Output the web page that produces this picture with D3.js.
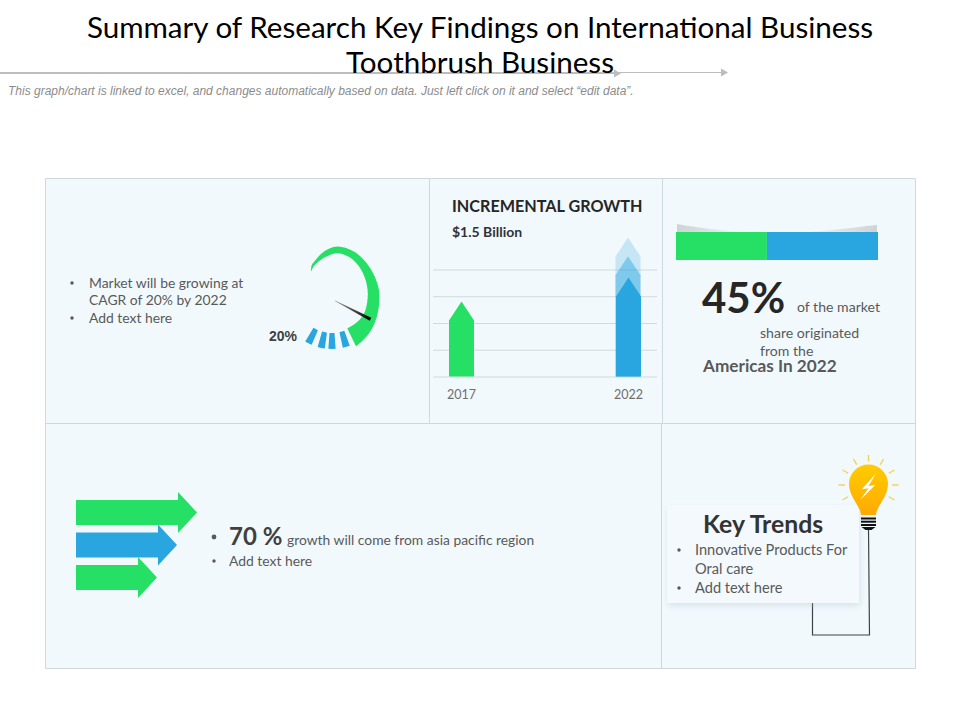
<!DOCTYPE html>
<html><head><meta charset="utf-8">
<script src="https://cdnjs.cloudflare.com/ajax/libs/d3/7.8.5/d3.min.js"></script>
<style>html,body{margin:0;padding:0;background:#fff}svg{display:block}</style>
</head><body><svg id="c" width="960" height="720"></svg>
<script>
const titleLines=["Summary of Research Key Findings on International Business","Toothbrush Business"];
const note="This graph/chart is linked to excel, and changes automatically based on data. Just left click on it and select “edit data”.";
const growthYears=["2017","2022"];
const growthValues=[2.8,3.7];
const growthGhostValues=[4.5,5.2];
const gridTicks=[0,1,2,3,4];
const shareParts=[45,55];
const arrowValues=[121,101,81];
const gaugeDashAngles=[207,192,180,164];
const gaugeNeedleValue=20;
const GREEN="#26e066",BLUE="#29a6e0",INK="#595959";

const svg=d3.select("#c");
const defs=svg.append("defs");
const sh=defs.append("filter").attr("id","cardShadow").attr("x","-10%").attr("y","-10%").attr("width","120%").attr("height","125%");
sh.append("feDropShadow").attr("dx",1).attr("dy",3).attr("stdDeviation",3).attr("flood-color","#a8b8c0").attr("flood-opacity",.35);
const bulbG=defs.append("linearGradient").attr("id","bulbG").attr("x1",0).attr("x2",0).attr("y1",0).attr("y2",1);
bulbG.append("stop").attr("offset","0").attr("stop-color","#ffcc00");
bulbG.append("stop").attr("offset","1").attr("stop-color","#ffaa00");
const shL=defs.append("linearGradient").attr("id","shL");
shL.append("stop").attr("offset","0").attr("stop-color","#cfd3d6");
shL.append("stop").attr("offset","1").attr("stop-color","#eef3f6");
const shR=defs.append("linearGradient").attr("id","shR");
shR.append("stop").attr("offset","0").attr("stop-color","#eef3f6");
shR.append("stop").attr("offset","1").attr("stop-color","#cfd3d6");
const ndl=defs.append("linearGradient").attr("id","ndl");
ndl.append("stop").attr("offset","0").attr("stop-color","#9a9a9a");
ndl.append("stop").attr("offset","1").attr("stop-color","#000");

const SANS="Lato,'Open Sans',sans-serif";
function txt(x,y,s,size,opt={}){
  const t=svg.append("text").attr("x",x).attr("y",y).text(s)
    .attr("font-family",opt.family||SANS).attr("font-size",size)
    .attr("fill",opt.fill||INK).attr("font-weight",opt.weight||400)
    .attr("text-anchor",opt.anchor||"start");
  if(opt.style)t.attr("font-style",opt.style);
  return t;
}
function bullet(x,y,r=1.7){svg.append("circle").attr("cx",x).attr("cy",y).attr("r",r).attr("fill",INK);}

// panel
svg.append("rect").attr("x",45).attr("y",178).attr("width",870).attr("height",490).attr("fill","#f2f9fd");
const lineC="#cdd9df";
[[45,178,915,178],[45,423,915,423],[45,668,915,668],[45,178,45,668],[915,178,915,668],[429,178,429,423],[662,178,662,423],[661,423,661,668]]
 .forEach(d=>svg.append("line").attr("x1",d[0]+.5).attr("y1",d[1]+.5).attr("x2",d[2]+.5).attr("y2",d[3]+.5).attr("stroke",lineC).attr("stroke-width",1));

// title + arrows
[[621,73.5],[728,72.5]].forEach(([x,y])=>{
  svg.append("line").attr("x1",0).attr("x2",x-6).attr("y1",y).attr("y2",y).attr("stroke","#bdbdbd").attr("stroke-width",1);
  svg.append("path").attr("d",d3.line()([[x-7,y-4],[x,y],[x-7,y+4]])+"Z").attr("fill","#bdbdbd");
});
titleLines.forEach((s,i)=>txt(480,38+i*35,s,29.6,{anchor:"middle",fill:"#000"}));
txt(8,95,note,12,{family:"'Liberation Sans',Arial,sans-serif",style:"italic",fill:"#8c8c8c"});

// gauge
const gc=[332,297];
const g=svg.append("g").attr("transform",`translate(${gc})`);
const rad=d=>d*Math.PI/180;
const gaugeBand=[[-39,33,33.4],[-33,35,37.5],[-27,36.5,39.5],[-14,39.5,44.5],[-5,41.5,48],[7,44,50.8],[24,43.5,50.5],[40,41,49],[60,38,47.5],[84,36,47.5],[114,36,49],[135,35.5,52],[154,35,55]];
g.append("path").attr("fill",GREEN).attr("d",d3.areaRadial().curve(d3.curveCatmullRom)
  .angle(d=>rad(d[0])).innerRadius(d=>d[1]).outerRadius(d=>d[2])(gaugeBand));
const dash=d3.arc().innerRadius(36).outerRadius(52);
gaugeDashAngles.forEach(a=>g.append("path").attr("fill",BLUE)
  .attr("d",dash({startAngle:rad(a-4),endAngle:rad(a+4)})));
const needleScale=d3.scaleLinear().domain([0,100]).range([-10,177.5]);
g.append("path").attr("fill","url(#ndl)")
  .attr("transform",`translate(3,3.7) rotate(${needleScale(gaugeNeedleValue)})`)
  .attr("d","M0,-0.2L40,-1.7L40,1.7L0,0.2Z");
txt(269,341,"20%",14,{family:"'Liberation Sans',Arial,sans-serif",weight:700,fill:"#404040"});

// left text
bullet(72,283);bullet(72,318);
txt(89,288,"Market will be growing at",13.9);
txt(89,305,"CAGR of 20% by 2022",13.9);
txt(89,323,"Add text here",13.9);

// incremental growth
txt(452,212,"INCREMENTAL GROWTH",16.2,{weight:700,fill:"#262626"});
txt(452,237,"$1.5  Billion",14,{weight:700,fill:"#333"});
const y=d3.scaleLinear().domain([0,4]).range([376.5,269.5]);
const x=d3.scalePoint().domain(growthYears).range([461.5,628.5]);
const axis=svg.append("g").attr("transform","translate(433,0)")
  .call(d3.axisLeft(y).tickValues(gridTicks).tickSize(-224).tickFormat(""));
axis.select(".domain").remove();
axis.selectAll("line").attr("stroke","#d0d9de").attr("stroke-width",1);
const hw=12.5,tipH=19;
function peak(cx,v,fill,op){
  const t=y(v);
  svg.append("path").attr("fill",fill).attr("fill-opacity",op)
   .attr("d",d3.line()([[cx-hw,y(0)],[cx-hw,t+tipH],[cx,t],[cx+hw,t+tipH],[cx+hw,y(0)]])+"Z");
}
const g22=growthYears[1];
peak(x(g22)-0.5,growthGhostValues[1],BLUE,.22);
peak(x(g22)-0.5,growthGhostValues[0],BLUE,.45);
growthYears.forEach((d,i)=>peak(x(d),growthValues[i],i?BLUE:GREEN,1));
const xa=svg.append("g").attr("transform","translate(0,376)").call(d3.axisBottom(x).tickSize(0).tickPadding(14));
xa.select(".domain").remove();
xa.selectAll("text").attr("font-family",SANS).attr("font-size",12.5).attr("fill","#6e6e6e").attr("dx",-0.5);

// share bar
svg.append("path").attr("fill","url(#shL)").attr("d","M677,224C700,228 725,231 745,232L677,232Z");
svg.append("path").attr("fill","url(#shR)").attr("d","M877,225C850,228 825,231 805,232L877,232Z");
const sx=d3.scaleLinear().domain([0,d3.sum(shareParts)]).range([676,878]);
let acc=0;
shareParts.forEach((v,i)=>{svg.append("rect").attr("x",sx(acc)).attr("y",232).attr("width",sx(acc+v)-sx(acc)).attr("height",28).attr("fill",i?BLUE:GREEN);acc+=v;});
txt(702,313,"45%",42,{weight:700,fill:"#262626"});
txt(797,312,"of the market",14.1);
txt(760,338,"share originated",14.1);
txt(760,355.5,"from the",14.1);
txt(703,372,"Americas In 2022",17.2,{weight:700});

// arrows
const ax=d3.scaleLinear().domain([0,121]).range([76,197]);
arrowValues.forEach((v,i)=>{
  const cy=512.5+i*32.5,e=ax(v),n=e-19;
  svg.append("path").attr("fill",i==1?BLUE:GREEN).attr("d",d3.line()([[76,cy-12.5],[n,cy-12.5],[n,cy-20.5],[e,cy],[n,cy+20.5],[n,cy+12.5],[76,cy+12.5]])+"Z");
});
bullet(214,537,2.4);bullet(214,561);
txt(229,545,"70 %",24,{weight:700,fill:"#404040"});
txt(287,545,"growth will come from asia pacific region",13.85);
txt(229,566,"Add text here",13.9);

// wire + card + bulb
svg.append("path").attr("fill","none").attr("stroke","#3c4448").attr("stroke-width",1.2)
  .attr("d","M868.5,530L869.5,635L812.5,635L812.5,600");
svg.append("rect").attr("x",667).attr("y",505).attr("width",192).attr("height",98).attr("fill","#f3f9fd").attr("filter","url(#cardShadow)");
txt(703,533,"Key Trends",24.8,{weight:700,fill:"#333"});
bullet(679,550);bullet(679,588);
txt(695,555,"Innovative Products For",14.6);
txt(695,574,"Oral care",14.6);
txt(695,593,"Add text here",14.6);

const b=svg.append("g").attr("transform","translate(868.5,485)");
[-120,-90,-60,-30,0,30,60,90,120].forEach(a=>{
  b.append("line").attr("y1",-23.5).attr("y2",-30).attr("transform",`rotate(${a})`).attr("stroke","#f7cf4f").attr("stroke-width",1.4);
});
b.append("path").attr("fill","url(#bulbG)").attr("d","M-7.5,30C-8,21 -19.5,12 -19.5,-1A19.5,19.5 0 1 1 19.5,-1C19.5,12 8,21 7.5,30Z");
[32.5,35.7,39].forEach(v=>b.append("rect").attr("x",-7.5).attr("y",v).attr("width",15).attr("height",2).attr("fill","#111"));
b.append("path").attr("fill","#111").attr("d","M-7,42L7,42L3,45L-3,45Z");
b.append("path").attr("fill","#fff").attr("d","M7.7,-11.7L-6.7,4.3L0,3.3L-8.3,15L6.7,0L0,1Z");
</script></body></html>
